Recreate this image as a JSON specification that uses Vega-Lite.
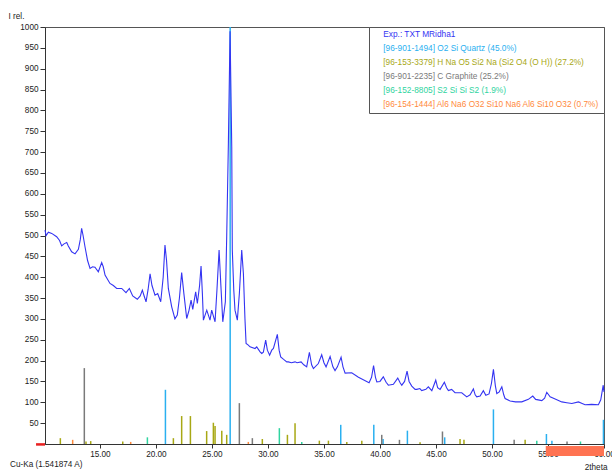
{
  "$schema": "https://vega.github.io/schema/vega-lite/v6.json",
  "width": 559,
  "height": 417,
  "autosize": "none",
  "padding": {"left": 45, "top": 27, "right": 8, "bottom": 26},
  "background": "white",
  "title": {"text": "Cu-Ka (1.541874 A)", "orient": "bottom", "anchor": "start", "frame": "group", "offset": 0, "dx": -35, "dy": -9, "fontSize": 8.2, "fontWeight": "normal", "color": "#222", "font": "Liberation Sans"},
  "config": {
    "font": "Liberation Sans",
    "view": {"stroke": "#555", "strokeWidth": 1},
    "axis": {"labelFont": "Liberation Sans", "labelFontSize": 8.2, "labelColor": "#222", "domainColor": "#333", "tickColor": "#333", "grid": false, "titleFont": "Liberation Sans", "titleFontSize": 8.2, "titleFontWeight": "normal", "titleColor": "#222"}
  },
  "datasets": {
    "exp": [
      {"x": 10.1, "y": 513}, {"x": 10.2, "y": 500}, {"x": 10.4, "y": 508}, {"x": 10.7, "y": 505}, {"x": 11.14, "y": 497},
      {"x": 11.4, "y": 488}, {"x": 11.59, "y": 475}, {"x": 11.8, "y": 480}, {"x": 12.04, "y": 483}, {"x": 12.18, "y": 475},
      {"x": 12.48, "y": 461}, {"x": 12.78, "y": 456}, {"x": 13.08, "y": 467}, {"x": 13.25, "y": 490}, {"x": 13.37, "y": 517},
      {"x": 13.5, "y": 500}, {"x": 13.67, "y": 473}, {"x": 13.9, "y": 440}, {"x": 14.12, "y": 421}, {"x": 14.35, "y": 425},
      {"x": 14.56, "y": 424}, {"x": 14.86, "y": 413}, {"x": 15.16, "y": 435}, {"x": 15.3, "y": 425}, {"x": 15.46, "y": 405},
      {"x": 15.9, "y": 385}, {"x": 16.2, "y": 380}, {"x": 16.5, "y": 373}, {"x": 16.95, "y": 373}, {"x": 17.33, "y": 363},
      {"x": 17.63, "y": 373}, {"x": 17.93, "y": 355}, {"x": 18.34, "y": 347}, {"x": 18.6, "y": 355}, {"x": 18.79, "y": 369},
      {"x": 18.95, "y": 355}, {"x": 19.12, "y": 341}, {"x": 19.3, "y": 370}, {"x": 19.48, "y": 408}, {"x": 19.65, "y": 380},
      {"x": 19.92, "y": 357}, {"x": 20.16, "y": 361}, {"x": 20.43, "y": 341}, {"x": 20.65, "y": 400}, {"x": 20.81, "y": 477},
      {"x": 20.95, "y": 440}, {"x": 21.11, "y": 373}, {"x": 21.41, "y": 329}, {"x": 21.7, "y": 300}, {"x": 21.91, "y": 309},
      {"x": 22.1, "y": 350}, {"x": 22.3, "y": 411}, {"x": 22.5, "y": 360}, {"x": 22.75, "y": 301}, {"x": 22.95, "y": 320},
      {"x": 23.14, "y": 345}, {"x": 23.29, "y": 323}, {"x": 23.55, "y": 365}, {"x": 23.7, "y": 337}, {"x": 23.9, "y": 380},
      {"x": 24.03, "y": 427}, {"x": 24.15, "y": 360}, {"x": 24.24, "y": 297}, {"x": 24.54, "y": 321}, {"x": 24.83, "y": 297},
      {"x": 24.98, "y": 321}, {"x": 25.28, "y": 293}, {"x": 25.45, "y": 370}, {"x": 25.64, "y": 465}, {"x": 25.8, "y": 380},
      {"x": 25.97, "y": 293}, {"x": 26.2, "y": 341}, {"x": 26.32, "y": 497}, {"x": 26.47, "y": 721}, {"x": 26.62, "y": 990},
      {"x": 26.77, "y": 713}, {"x": 26.82, "y": 465}, {"x": 26.95, "y": 370}, {"x": 27.06, "y": 321}, {"x": 27.27, "y": 297},
      {"x": 27.45, "y": 361}, {"x": 27.66, "y": 465}, {"x": 27.81, "y": 409}, {"x": 27.95, "y": 300}, {"x": 28.05, "y": 241},
      {"x": 28.25, "y": 237}, {"x": 28.4, "y": 233}, {"x": 28.85, "y": 229}, {"x": 29.0, "y": 233}, {"x": 29.3, "y": 221},
      {"x": 29.45, "y": 217}, {"x": 29.59, "y": 220}, {"x": 29.8, "y": 249}, {"x": 29.95, "y": 225}, {"x": 30.15, "y": 213},
      {"x": 30.34, "y": 225}, {"x": 30.49, "y": 229}, {"x": 30.84, "y": 263}, {"x": 31.0, "y": 225}, {"x": 31.14, "y": 209},
      {"x": 31.4, "y": 203}, {"x": 31.68, "y": 197}, {"x": 31.82, "y": 197}, {"x": 32.1, "y": 195}, {"x": 32.42, "y": 197},
      {"x": 32.6, "y": 195}, {"x": 32.96, "y": 197}, {"x": 33.2, "y": 190}, {"x": 33.46, "y": 185}, {"x": 33.7, "y": 220},
      {"x": 33.9, "y": 190}, {"x": 34.06, "y": 181}, {"x": 34.5, "y": 193}, {"x": 34.8, "y": 214}, {"x": 35.0, "y": 195},
      {"x": 35.19, "y": 185}, {"x": 35.55, "y": 210}, {"x": 35.8, "y": 185}, {"x": 35.99, "y": 176}, {"x": 36.2, "y": 185},
      {"x": 36.53, "y": 208}, {"x": 36.7, "y": 185}, {"x": 36.89, "y": 170}, {"x": 37.48, "y": 171}, {"x": 38.08, "y": 160},
      {"x": 38.6, "y": 153}, {"x": 39.03, "y": 147}, {"x": 39.25, "y": 160}, {"x": 39.43, "y": 188}, {"x": 39.6, "y": 160},
      {"x": 39.72, "y": 149}, {"x": 40.0, "y": 150}, {"x": 40.3, "y": 161}, {"x": 40.55, "y": 148}, {"x": 40.75, "y": 141},
      {"x": 41.2, "y": 143}, {"x": 41.59, "y": 158}, {"x": 41.8, "y": 147}, {"x": 41.95, "y": 141}, {"x": 42.2, "y": 150},
      {"x": 42.42, "y": 175}, {"x": 42.6, "y": 150}, {"x": 42.84, "y": 139}, {"x": 43.14, "y": 131}, {"x": 43.29, "y": 131},
      {"x": 43.56, "y": 133}, {"x": 43.73, "y": 128}, {"x": 44.1, "y": 131}, {"x": 44.32, "y": 137}, {"x": 44.63, "y": 128},
      {"x": 44.98, "y": 153}, {"x": 45.15, "y": 135}, {"x": 45.37, "y": 131}, {"x": 45.75, "y": 148}, {"x": 45.95, "y": 135},
      {"x": 46.11, "y": 128}, {"x": 46.4, "y": 131}, {"x": 46.7, "y": 123}, {"x": 47.3, "y": 123}, {"x": 47.75, "y": 113},
      {"x": 48.05, "y": 118}, {"x": 48.34, "y": 132}, {"x": 48.5, "y": 118}, {"x": 48.64, "y": 113}, {"x": 48.94, "y": 115},
      {"x": 49.23, "y": 128}, {"x": 49.45, "y": 117}, {"x": 49.74, "y": 120}, {"x": 49.95, "y": 145}, {"x": 50.13, "y": 179},
      {"x": 50.3, "y": 140}, {"x": 50.43, "y": 121}, {"x": 50.65, "y": 125}, {"x": 50.88, "y": 137}, {"x": 51.05, "y": 118},
      {"x": 51.17, "y": 109}, {"x": 51.62, "y": 103}, {"x": 52.1, "y": 101}, {"x": 52.66, "y": 101}, {"x": 53.25, "y": 107},
      {"x": 53.64, "y": 115}, {"x": 53.9, "y": 107}, {"x": 54.45, "y": 104}, {"x": 54.7, "y": 110}, {"x": 54.89, "y": 124},
      {"x": 55.19, "y": 113}, {"x": 55.64, "y": 108}, {"x": 56.23, "y": 101}, {"x": 56.68, "y": 99}, {"x": 57.13, "y": 97},
      {"x": 57.72, "y": 101}, {"x": 58.0, "y": 98}, {"x": 58.31, "y": 94}, {"x": 58.9, "y": 95}, {"x": 59.5, "y": 94},
      {"x": 59.71, "y": 106}, {"x": 59.93, "y": 141}, {"x": 60.0, "y": 125}
    ],
    "sticks": [
      {"x": 20.85, "y": 130, "phase": "[96-901-1494] O2 Si  Quartz (45.0%)"},
      {"x": 26.63, "y": 1000, "phase": "[96-901-1494] O2 Si  Quartz (45.0%)"},
      {"x": 36.5, "y": 46, "phase": "[96-901-1494] O2 Si  Quartz (45.0%)"},
      {"x": 39.45, "y": 46, "phase": "[96-901-1494] O2 Si  Quartz (45.0%)"},
      {"x": 40.28, "y": 12, "phase": "[96-901-1494] O2 Si  Quartz (45.0%)"},
      {"x": 42.45, "y": 32, "phase": "[96-901-1494] O2 Si  Quartz (45.0%)"},
      {"x": 45.78, "y": 16, "phase": "[96-901-1494] O2 Si  Quartz (45.0%)"},
      {"x": 50.13, "y": 83, "phase": "[96-901-1494] O2 Si  Quartz (45.0%)"},
      {"x": 54.86, "y": 24, "phase": "[96-901-1494] O2 Si  Quartz (45.0%)"},
      {"x": 55.35, "y": 8, "phase": "[96-901-1494] O2 Si  Quartz (45.0%)"},
      {"x": 59.95, "y": 58, "phase": "[96-901-1494] O2 Si  Quartz (45.0%)"},
      {"x": 11.47, "y": 14, "phase": "[96-153-3379] H Na O5 Si2 Na (Si2 O4 (O H)) (27.2%)"},
      {"x": 13.76, "y": 6, "phase": "[96-153-3379] H Na O5 Si2 Na (Si2 O4 (O H)) (27.2%)"},
      {"x": 14.18, "y": 7, "phase": "[96-153-3379] H Na O5 Si2 Na (Si2 O4 (O H)) (27.2%)"},
      {"x": 17.04, "y": 6, "phase": "[96-153-3379] H Na O5 Si2 Na (Si2 O4 (O H)) (27.2%)"},
      {"x": 21.56, "y": 14, "phase": "[96-153-3379] H Na O5 Si2 Na (Si2 O4 (O H)) (27.2%)"},
      {"x": 22.3, "y": 67, "phase": "[96-153-3379] H Na O5 Si2 Na (Si2 O4 (O H)) (27.2%)"},
      {"x": 23.08, "y": 67, "phase": "[96-153-3379] H Na O5 Si2 Na (Si2 O4 (O H)) (27.2%)"},
      {"x": 24.53, "y": 31, "phase": "[96-153-3379] H Na O5 Si2 Na (Si2 O4 (O H)) (27.2%)"},
      {"x": 25.13, "y": 51, "phase": "[96-153-3379] H Na O5 Si2 Na (Si2 O4 (O H)) (27.2%)"},
      {"x": 25.28, "y": 43, "phase": "[96-153-3379] H Na O5 Si2 Na (Si2 O4 (O H)) (27.2%)"},
      {"x": 25.88, "y": 32, "phase": "[96-153-3379] H Na O5 Si2 Na (Si2 O4 (O H)) (27.2%)"},
      {"x": 26.32, "y": 22, "phase": "[96-153-3379] H Na O5 Si2 Na (Si2 O4 (O H)) (27.2%)"},
      {"x": 29.5, "y": 12, "phase": "[96-153-3379] H Na O5 Si2 Na (Si2 O4 (O H)) (27.2%)"},
      {"x": 31.74, "y": 22, "phase": "[96-153-3379] H Na O5 Si2 Na (Si2 O4 (O H)) (27.2%)"},
      {"x": 32.42, "y": 50, "phase": "[96-153-3379] H Na O5 Si2 Na (Si2 O4 (O H)) (27.2%)"},
      {"x": 34.59, "y": 8, "phase": "[96-153-3379] H Na O5 Si2 Na (Si2 O4 (O H)) (27.2%)"},
      {"x": 35.4, "y": 8, "phase": "[96-153-3379] H Na O5 Si2 Na (Si2 O4 (O H)) (27.2%)"},
      {"x": 37.04, "y": 5, "phase": "[96-153-3379] H Na O5 Si2 Na (Si2 O4 (O H)) (27.2%)"},
      {"x": 38.38, "y": 8, "phase": "[96-153-3379] H Na O5 Si2 Na (Si2 O4 (O H)) (27.2%)"},
      {"x": 43.58, "y": 4, "phase": "[96-153-3379] H Na O5 Si2 Na (Si2 O4 (O H)) (27.2%)"},
      {"x": 47.15, "y": 12, "phase": "[96-153-3379] H Na O5 Si2 Na (Si2 O4 (O H)) (27.2%)"},
      {"x": 47.5, "y": 10, "phase": "[96-153-3379] H Na O5 Si2 Na (Si2 O4 (O H)) (27.2%)"},
      {"x": 52.96, "y": 10, "phase": "[96-153-3379] H Na O5 Si2 Na (Si2 O4 (O H)) (27.2%)"},
      {"x": 13.61, "y": 182, "phase": "[96-901-2235] C  Graphite (25.2%)"},
      {"x": 27.45, "y": 98, "phase": "[96-901-2235] C  Graphite (25.2%)"},
      {"x": 28.61, "y": 14, "phase": "[96-901-2235] C  Graphite (25.2%)"},
      {"x": 40.16, "y": 22, "phase": "[96-901-2235] C  Graphite (25.2%)"},
      {"x": 41.74, "y": 10, "phase": "[96-901-2235] C  Graphite (25.2%)"},
      {"x": 45.58, "y": 30, "phase": "[96-901-2235] C  Graphite (25.2%)"},
      {"x": 51.98, "y": 10, "phase": "[96-901-2235] C  Graphite (25.2%)"},
      {"x": 56.7, "y": 6, "phase": "[96-901-2235] C  Graphite (25.2%)"},
      {"x": 19.24, "y": 16, "phase": "[96-152-8805] S2 Si Si S2 (1.9%)"},
      {"x": 31.02, "y": 38, "phase": "[96-152-8805] S2 Si Si S2 (1.9%)"},
      {"x": 33.02, "y": 5, "phase": "[96-152-8805] S2 Si Si S2 (1.9%)"},
      {"x": 54.0, "y": 8, "phase": "[96-152-8805] S2 Si Si S2 (1.9%)"},
      {"x": 57.9, "y": 6, "phase": "[96-152-8805] S2 Si Si S2 (1.9%)"},
      {"x": 12.57, "y": 10, "phase": "[96-154-1444] Al6 Na6 O32 Si10 Na6 Al6 Si10 O32 (0.7%)"},
      {"x": 17.75, "y": 5, "phase": "[96-154-1444] Al6 Na6 O32 Si10 Na6 Al6 Si10 O32 (0.7%)"},
      {"x": 28.25, "y": 5, "phase": "[96-154-1444] Al6 Na6 O32 Si10 Na6 Al6 Si10 O32 (0.7%)"}
    ]
  },
  "encoding": {
    "x": {"field": "x", "type": "quantitative", "scale": {"domain": [10.1, 60], "nice": false, "zero": false},
      "axis": {"values": [15, 20, 25, 30, 35, 40, 45, 50, 55, 60], "format": ".2f", "title": "2theta", "titleX": 562, "titleY": 23, "titleAlign": "right", "titleBaseline": "middle", "tickSize": 4, "labelPadding": 2, "labelFlush": false}},
    "y": {"field": "y", "type": "quantitative", "scale": {"domain": [0, 1000], "nice": false},
      "axis": {"values": [50, 100, 150, 200, 250, 300, 350, 400, 450, 500, 550, 600, 650, 700, 750, 800, 850, 900, 950, 1000], "format": "d", "title": "I rel.", "titleAngle": 0, "titleX": -37, "titleY": -9, "titleAlign": "left", "titleBaseline": "alphabetic", "tickSize": 5, "labelPadding": 2}}
  },
  "layer": [
    {
      "data": {"name": "sticks"},
      "mark": {"type": "rule", "strokeWidth": 1.5},
      "encoding": {
        "y2": {"datum": 0},
        "color": {"field": "phase", "type": "nominal"}
      }
    },
    {
      "data": {"name": "exp"},
      "transform": [{"calculate": "'Exp.: TXT MRidha1'", "as": "phase"}],
      "mark": {"type": "line", "strokeWidth": 1.1, "interpolate": "linear"},
      "encoding": {
        "color": {"field": "phase", "type": "nominal",
          "scale": {"domain": ["Exp.: TXT MRidha1", "[96-901-1494] O2 Si  Quartz (45.0%)", "[96-153-3379] H Na O5 Si2 Na (Si2 O4 (O H)) (27.2%)", "[96-901-2235] C  Graphite (25.2%)", "[96-152-8805] S2 Si Si S2 (1.9%)", "[96-154-1444] Al6 Na6 O32 Si10 Na6 Al6 Si10 O32 (0.7%)"],
            "range": ["#3434F2", "#2AB0F0", "#A8A814", "#7A7A7A", "#30D4A0", "#FF8A3C"]},
          "legend": {"orient": "top-right", "offset": 0, "title": null, "strokeColor": "#555", "fillColor": "white", "padding": 4, "symbolSize": 0, "symbolStrokeWidth": 0, "symbolOpacity": 0, "labelOffset": 2, "labelFontSize": 8.3, "labelFont": "Liberation Sans", "labelLimit": 500, "rowPadding": 5,
            "encode": {"labels": {"update": {"fill": {"scale": "color", "field": "value"}}}}}
        }
      }
    },
    {
      "data": {"values": [{"x": 54.8, "x2": 60, "y": -5, "y2": -29}]},
      "mark": {"type": "rect", "color": "#FF7352"},
      "encoding": {"x2": {"field": "x2"}, "y2": {"field": "y2"}}
    },
    {
      "data": {"values": [{"x": 9.3, "x2": 10.1, "y": -4, "y2": 2}]},
      "mark": {"type": "rect", "color": "#E82020", "clip": false},
      "encoding": {"x2": {"field": "x2"}, "y2": {"field": "y2"}}
    }
  ]
}
